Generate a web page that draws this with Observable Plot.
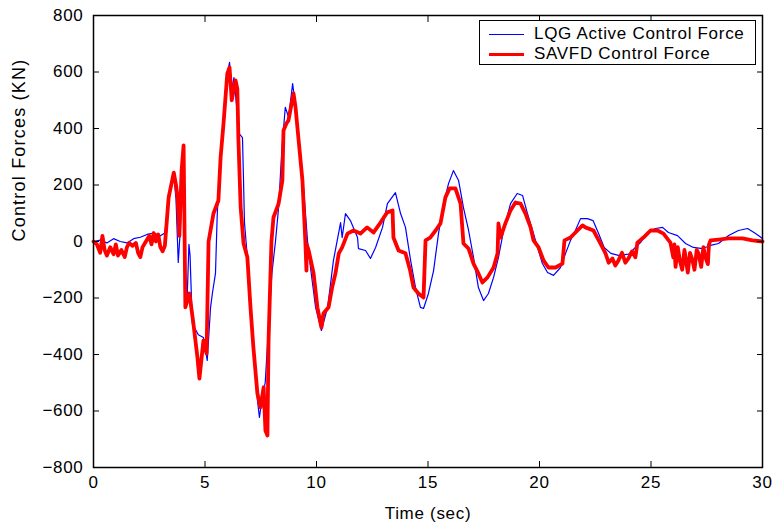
<!DOCTYPE html>
<html><head><meta charset="utf-8">
<script src="https://cdn.jsdelivr.net/npm/d3@7"></script>
<script src="https://cdn.jsdelivr.net/npm/@observablehq/plot@0.6"></script>
<style>
body{margin:0;background:#fff;}
#wrap{position:relative;width:773px;height:522px;}
#wrap svg text{letter-spacing:0.7px;}
#wrap g.ylab text{letter-spacing:1.2px;}
#legend{position:absolute;left:479px;top:20px;width:277px;height:45px;border:1.4px solid #000;background:#fff;font-family:"Liberation Sans",Arial,sans-serif;font-size:17px;letter-spacing:0.7px;color:#000;box-sizing:border-box;}
.row{position:absolute;left:0;display:flex;align-items:center;height:20px;}
.sw{width:35px;margin-left:9px;margin-right:10px;}
</style></head>
<body>
<div id="wrap"></div>
<script>
const xTicks = [0, 5, 10, 15, 20, 25, 30];
const yTicks = [-800, -600, -400, -200, 0, 200, 400, 600, 800];
const xLabel = "Time (sec)";
const yLabel = "Control Forces (KN)";
const seriesNames = ["LQG Active Control Force", "SAVFD Control Force"];
const seriesColors = ["#0000ff", "#ff0000"];

// [time (s), force (kN)]
const lqgForce = [
[0,0],[0.3,5],[0.6,-5],[0.9,10],[1.2,0],[1.5,-5],[1.8,10],[2.1,15],[2.4,25],[2.7,30],[3.0,20],[3.2,30],
[3.37,150],[3.6,240],[3.7,150],[3.8,-74],[3.9,50],[4.02,333],[4.12,-150],[4.2,-200],[4.28,-10],[4.33,-50],
[4.43,-290],[4.7,-330],[4.93,-340],[5.1,-421],[5.25,-233],[5.33,-184],[5.47,-113],[5.55,99],[5.7,311],
[5.85,420],[6.0,590],[6.1,634],[6.2,540],[6.3,580],[6.45,450],[6.55,380],[6.68,368],[6.72,240],[6.77,67],
[6.9,-56],[7.04,-233],[7.2,-400],[7.35,-560],[7.44,-623],[7.55,-560],[7.7,-500],[7.85,-300],[8.0,-113],
[8.16,0],[8.3,120],[8.45,330],[8.6,475],[8.75,440],[8.93,559],[9.1,450],[9.25,300],[9.42,191],[9.6,0],
[9.73,-92],[9.96,-233],[10.22,-315],[10.5,-233],[10.76,-67],[11.08,67],[11.15,14],[11.3,99],[11.52,74],
[11.84,14],[11.88,-25],[12.2,-32],[12.42,-60],[12.65,-21],[12.96,50],[13.18,134],[13.54,173],[13.77,99],
[13.99,50],[14.22,-67],[14.44,-163],[14.66,-233],[14.8,-237],[15.02,-184],[15.25,-103],[15.47,28],
[15.7,134],[15.92,205],[16.14,251],[16.37,216],[16.59,120],[16.82,39],[17.04,-56],[17.26,-163],
[17.49,-209],[17.71,-184],[17.94,-127],[18.16,-56],[18.39,39],[18.7,134],[19.0,170],[19.24,163],
[19.46,99],[19.69,39],[19.91,-21],[20.13,-78],[20.36,-110],[20.63,-120],[20.94,-92],[21.17,-42],
[21.39,4],[21.61,39],[21.84,81],[22.15,81],[22.4,74],[22.65,28],[22.9,-21],[23.2,-42],[23.54,-49],
[24.0,-45],[24.3,-21],[24.53,-4],[24.84,32],[25.2,46],[25.52,50],[25.78,32],[26.19,21],[26.55,-7],
[26.9,-21],[27.31,-25],[27.67,-14],[28.03,-7],[28.48,21],[28.92,39],[29.33,46],[29.69,28],[30,11]
];

const savfdForce = [
[0,0],[0.15,-10],[0.3,-40],[0.4,20],[0.5,-30],[0.6,-50],[0.75,-20],[0.9,-45],[1.0,-10],[1.1,-50],
[1.25,-30],[1.4,-55],[1.5,-20],[1.6,-5],[1.75,-15],[1.9,-5],[2.0,-40],[2.1,-55],[2.2,-20],[2.35,0],
[2.5,20],[2.6,-10],[2.7,30],[2.8,0],[2.9,25],[3.0,-20],[3.1,-35],[3.2,-15],
[3.37,156],[3.6,244],[3.7,200],[3.77,156],[3.85,20],[3.95,250],[4.04,340],[4.12,-233],[4.3,-184],
[4.48,-290],[4.66,-410],[4.75,-485],[4.93,-350],[5.07,-397],[5.16,0],[5.38,99],[5.6,145],[5.7,298],
[5.83,417],[6.0,594],[6.1,616],[6.2,500],[6.37,570],[6.45,540],[6.5,357],[6.6,120],[6.73,-7],[6.9,-56],
[7.04,-233],[7.17,-375],[7.35,-538],[7.49,-587],[7.63,-516],[7.71,-669],[7.8,-687],[7.85,-350],[7.98,0],
[8.07,85],[8.3,134],[8.47,216],[8.52,393],[8.65,418],[8.74,428],[8.97,524],[9.06,475],[9.2,357],
[9.37,216],[9.5,0],[9.55,-103],[9.56,-10],[9.65,-32],[9.87,-113],[10.04,-233],[10.22,-304],[10.31,-255],
[10.54,-233],[10.7,-163],[10.85,-113],[11.0,-42],[11.15,-21],[11.39,28],[11.66,39],[11.97,28],[12.27,50],
[12.56,32],[12.87,67],[13.17,103],[13.41,110],[13.45,14],[13.68,-32],[13.99,-42],[14.2,-103],[14.35,-163],
[14.57,-184],[14.8,-198],[14.89,4],[15.1,14],[15.34,39],[15.56,64],[15.78,156],[15.97,188],[16.23,188],
[16.46,134],[16.59,-7],[16.82,-25],[17.04,-78],[17.26,-113],[17.44,-145],[17.67,-127],[17.94,-92],
[18.12,-42],[18.16,64],[18.25,14],[18.47,64],[18.7,110],[18.92,138],[19.15,134],[19.37,99],[19.6,50],
[19.73,4],[19.96,-21],[20.18,-67],[20.4,-92],[20.72,-92],[21.03,-78],[21.12,4],[21.39,14],[21.7,39],
[21.93,57],[22.06,50],[22.42,39],[22.73,-7],[22.96,-42],[23.1,-75],[23.27,-60],[23.4,-85],[23.54,-67],
[23.7,-40],[23.85,-75],[23.99,-60],[24.15,-35],[24.3,-56],[24.39,-4],[24.66,14],[24.98,39],[25.29,39],
[25.56,28],[25.87,-4],[26.0,-56],[26.05,-10],[26.1,-90],[26.2,-20],[26.3,-70],[26.4,-100],[26.5,-30],
[26.55,-56],[26.65,-110],[26.75,-40],[26.86,-67],[26.95,-100],[27.05,-30],[27.13,-42],[27.25,-90],
[27.35,-20],[27.44,-56],[27.55,-80],[27.6,-10],[27.67,4],[28.03,7],[28.48,11],[29.1,11],[29.55,4],[30,0]
];

const chart = Plot.plot({
  width: 773, height: 522,
  marginLeft: 93, marginRight: 11, marginTop: 15, marginBottom: 55,
  style: {fontFamily: "'Liberation Sans', Arial, sans-serif", fontSize: "17px", color: "#000", background: "#fff"},
  x: {domain: [0, 30], label: null},
  y: {domain: [-800, 800], label: null},
  marks: [
    Plot.line(lqgForce, {x: d => d[0], y: d => d[1], stroke: seriesColors[0], strokeWidth: 1.2}),
    Plot.line(savfdForce, {x: d => d[0], y: d => d[1], stroke: seriesColors[1], strokeWidth: 3.8}),
    Plot.frame({stroke: "#000", strokeWidth: 1.5}),
    Plot.axisX({ticks: xTicks, tickSize: -6, tickPadding: 14, label: null}),
    Plot.axisX({anchor: "top", ticks: xTicks, tickSize: -6, tickFormat: () => "", label: null}),
    Plot.axisY({ticks: yTicks, tickSize: -6, tickPadding: 16, label: null}),
    Plot.axisY({anchor: "right", ticks: yTicks, tickSize: -6, tickFormat: () => "", label: null}),
    Plot.text([xLabel], {text: d => d, frameAnchor: "bottom", lineAnchor: "bottom", dy: 51, fontSize: 17}),
    Plot.text([yLabel], {text: d => d, frameAnchor: "left", lineAnchor: "top", rotate: -90, dx: -81, fontSize: 18, className: "ylab"})
  ]
});
const wrap = document.getElementById("wrap");
wrap.appendChild(chart);

const legend = document.createElement("div");
legend.id = "legend";
seriesNames.forEach((name, i) => {
  const row = document.createElement("div");
  row.className = "row";
  row.style.top = (3 + i * 20) + "px";
  const sw = document.createElement("div");
  sw.className = "sw";
  sw.style.borderTop = (i === 0 ? 1.3 : 3.5) + "px solid " + seriesColors[i];
  const tx = document.createElement("span");
  tx.textContent = name;
  row.appendChild(sw); row.appendChild(tx);
  legend.appendChild(row);
});
wrap.appendChild(legend);
</script>
</body></html>
